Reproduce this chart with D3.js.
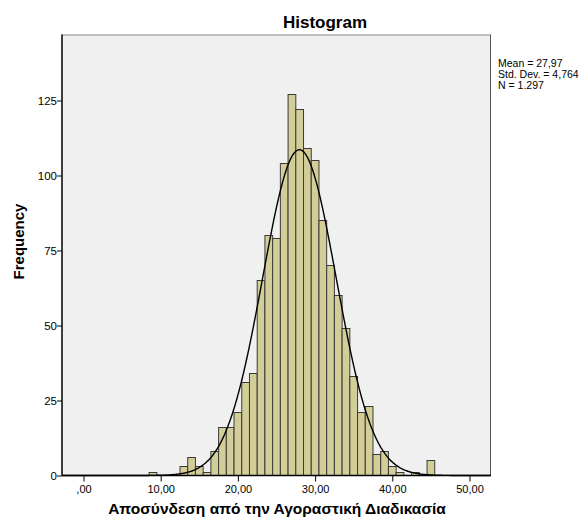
<!DOCTYPE html>
<html>
<head>
<meta charset="utf-8">
<script src="https://cdn.jsdelivr.net/npm/d3@7"></script>
<style>
  html, body { margin: 0; padding: 0; background: #ffffff; }
  svg { display: block; font-family: Arial, "Liberation Sans", sans-serif; }
</style>
</head>
<body>
<svg id="chart" width="588" height="524"></svg>
<script>
// Score values (bin centres, bin width 1) and their frequencies
const binCenters = [9, 10, 11, 12, 13, 14, 15, 16, 17, 18, 19, 20, 21, 22, 23, 24, 25, 26, 27,
                    28, 29, 30, 31, 32, 33, 34, 35, 36, 37, 38, 39, 40, 41, 42, 43, 44, 45];
const frequencies = [1, 0, 0, 0, 3, 6, 3, 1, 8, 16, 16, 21, 31, 34, 65, 80, 79, 104, 127,
                     122, 109, 105, 85, 70, 60, 49, 33, 21, 23, 7, 8, 3, 1, 0, 1, 0, 5];
const binWidth = 1;

// Summary statistics
const stats = { mean: 27.97, sd: 4.764, n: 1297 };
const statLines = ["Mean = 27,97", "Std. Dev. = 4,764", "N = 1.297"];

// Axis ticks
const xTicks = [0, 10, 20, 30, 40, 50];
const xTickLabels = [",00", "10,00", "20,00", "30,00", "40,00", "50,00"];
const yTicks = [0, 25, 50, 75, 100, 125];

const titleText = "Histogram";
const xTitle = "Αποσύνδεση από την Αγοραστική Διαδικασία";
const yTitle = "Frequency";

const svg = d3.select("#chart");
const plot = { left: 62, right: 491, top: 34.5, bottom: 475.5 };

const x = d3.scaleLinear().domain([0, 50]).range([83.5, 469.5]);
const y = d3.scaleLinear().domain([0, 125]).range([475.5, 100.5]);

// Plot background
svg.append("rect")
  .attr("x", plot.left).attr("y", plot.top)
  .attr("width", plot.right - plot.left).attr("height", plot.bottom - plot.top)
  .attr("fill", "#f0f0f0")
  .attr("stroke", "none");

// top and right frame
svg.append("path")
  .attr("d", `M${plot.left},${plot.top + 0.5}H${plot.right - 0.5}`)
  .attr("fill", "none")
  .attr("stroke", "#8a8a8a")
  .attr("stroke-width", 1);
svg.append("path")
  .attr("d", `M${plot.right - 0.5},${plot.top}V${plot.bottom}`)
  .attr("fill", "none")
  .attr("stroke", "#555")
  .attr("stroke-width", 1);

// Bars
const bins = binCenters.map((c, i) => ({ c, f: frequencies[i] })).filter(d => d.f > 0);
svg.append("g")
  .selectAll("rect")
  .data(bins)
  .join("rect")
  .attr("x", d => x(d.c - binWidth / 2))
  .attr("y", d => y(d.f))
  .attr("width", d => x(d.c + binWidth / 2) - x(d.c - binWidth / 2))
  .attr("height", d => y(0) - y(d.f))
  .attr("fill", "#d3ce97")
  .attr("stroke", "#3a3a3a")
  .attr("stroke-width", 1);

// Fitted normal curve
const normal = v => stats.n * binWidth *
  Math.exp(-0.5 * Math.pow((v - stats.mean) / stats.sd, 2)) / (stats.sd * Math.sqrt(2 * Math.PI));
const xs = d3.range(x.invert(plot.left), x.invert(plot.right), 0.1);
svg.append("path")
  .datum(xs)
  .attr("d", d3.line().x(v => x(v)).y(v => y(normal(v))).curve(d3.curveBasis))
  .attr("fill", "none")
  .attr("stroke", "#000")
  .attr("stroke-width", 1.4);

// Axes
const xAxis = d3.axisBottom(x)
  .tickValues(xTicks)
  .tickFormat((d, i) => xTickLabels[i])
  .tickSize(6)
  .tickSizeOuter(0);
const gx = svg.append("g")
  .attr("transform", `translate(0,${plot.bottom})`)
  .call(xAxis);
gx.select(".domain").remove();
gx.append("line")
  .attr("x1", plot.left).attr("x2", plot.right)
  .attr("stroke", "#000").attr("stroke-width", 1.5);
gx.selectAll(".tick line").attr("stroke", "#000");
gx.selectAll(".tick text")
  .attr("font-size", "11px")
  .attr("font-family", "Arial, 'Liberation Sans', sans-serif")
  .attr("fill", "#000")
  .attr("dy", "0.71em")
  .attr("y", 10);

const yAxis = d3.axisLeft(y)
  .tickValues(yTicks)
  .tickFormat(d3.format("d"))
  .tickSize(5)
  .tickSizeOuter(0);
const gy = svg.append("g")
  .attr("transform", `translate(${plot.left},0)`)
  .call(yAxis);
gy.select(".domain").remove();
gy.append("line")
  .attr("y1", plot.top).attr("y2", plot.bottom)
  .attr("stroke", "#000").attr("stroke-width", 1.5);
gy.selectAll(".tick line").attr("stroke", "#000");
gy.selectAll(".tick text")
  .attr("font-size", "11.5px")
  .attr("font-family", "Arial, 'Liberation Sans', sans-serif")
  .attr("fill", "#000")
  .attr("x", -5);

// Title
svg.append("text")
  .attr("x", 325).attr("y", 28)
  .attr("text-anchor", "middle")
  .attr("font-size", "17px")
  .attr("font-weight", "bold")
  .text(titleText);

// Axis titles
svg.append("text")
  .attr("x", 277).attr("y", 514)
  .attr("text-anchor", "middle")
  .attr("font-size", "15.5px")
  .attr("font-weight", "bold")
  .text(xTitle);

svg.append("text")
  .attr("transform", "translate(23.5,241.5) rotate(-90)")
  .attr("text-anchor", "middle")
  .attr("font-size", "15px")
  .attr("font-weight", "bold")
  .text(yTitle);

// Statistics box
svg.append("g")
  .selectAll("text")
  .data(statLines)
  .join("text")
  .attr("x", 498)
  .attr("y", (d, i) => 67 + i * 11)
  .attr("font-size", "10.5px")
  .attr("fill", "#000")
  .text(d => d);
</script>
</body>
</html>
